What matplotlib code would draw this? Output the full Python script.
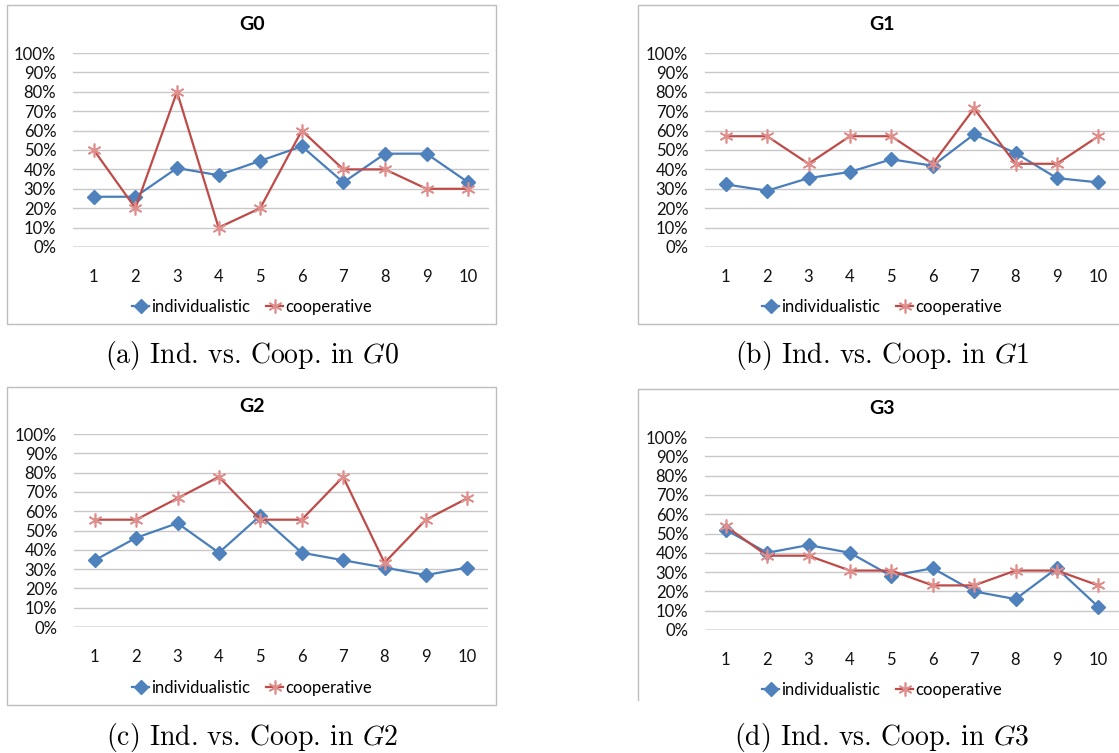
"""
Ind. vs. Coop. per round, four groups
"""

import matplotlib
matplotlib.use('Agg')
import matplotlib.pyplot as plt
from matplotlib.patches import Rectangle
from matplotlib.lines import Line2D
from matplotlib.ticker import FuncFormatter

rounds = [1, 2, 3, 4, 5, 6, 7, 8, 9, 10]
groups = ['G0', 'G1', 'G2', 'G3']
captions = ['(a) Ind. vs. Coop. in $G0$', '(b) Ind. vs. Coop. in $G1$',
            '(c) Ind. vs. Coop. in $G2$', '(d) Ind. vs. Coop. in $G3$']

ind_g0 = [0.259, 0.259, 0.407, 0.370, 0.444, 0.519, 0.333, 0.481, 0.481, 0.333]
coop_g0 = [0.50, 0.20, 0.80, 0.10, 0.20, 0.60, 0.40, 0.40, 0.30, 0.30]

ind_g1 = [0.323, 0.290, 0.355, 0.387, 0.452, 0.419, 0.581, 0.484, 0.355, 0.333]
coop_g1 = [0.571, 0.571, 0.429, 0.571, 0.571, 0.429, 0.714, 0.429, 0.429, 0.571]

ind_g2 = [0.346, 0.462, 0.538, 0.385, 0.577, 0.385, 0.346, 0.308, 0.269, 0.308]
coop_g2 = [0.556, 0.556, 0.667, 0.778, 0.556, 0.556, 0.778, 0.333, 0.556, 0.667]

ind_g3 = [0.52, 0.40, 0.44, 0.40, 0.28, 0.32, 0.20, 0.16, 0.32, 0.12]
coop_g3 = [0.538, 0.385, 0.385, 0.308, 0.308, 0.231, 0.231, 0.308, 0.308, 0.231]

ind_all = [ind_g0, ind_g1, ind_g2, ind_g3]
coop_all = [coop_g0, coop_g1, coop_g2, coop_g3]

W, H = 1119, 753
plt.rcParams['font.family'] = ['Lato', 'DejaVu Sans']
plt.rcParams['mathtext.fontset'] = 'cm'

fig = plt.figure(figsize=(W / 100, H / 100), dpi=100)

# pixel layout: box (x0, y0, x1, y1), plot area (x0, x1, y_top, y_bottom)
boxes = [(7, 5, 496, 324), (638, 5, 1125, 324), (7, 387, 496, 705), (638, 389, 1125, 700)]
plots = [(73, 489, 53, 247), (705, 1119, 53, 247), (74, 488, 434, 627), (705, 1119, 437, 630)]
title_y = [25, 25, 406, 409]
xtick_y = [277, 277, 657, 660]
legend_y = [307, 307, 688, 690]
caption_y = [356, 356, 737, 737]
center_x = [252, 882, 252, 882]

def fx(px):
    return px / W

def fy(py):
    return 1 - py / H

for i in range(4):
    bx0, by0, bx1, by1 = boxes[i]
    if i < 3:
        fig.add_artist(Rectangle((fx(bx0), fy(by1)), fx(bx1 - bx0), (by1 - by0) / H,
                                 transform=fig.transFigure, fill=False,
                                 edgecolor='#BDBDBD', linewidth=1.0))
    else:
        # last box is cut off at the bottom and right
        fig.add_artist(Line2D([fx(bx0), fx(bx0), fx(bx1)], [fy(by1), fy(by0), fy(by0)],
                              transform=fig.transFigure, color='#BDBDBD', linewidth=1.0))

    px0, px1, pt, pb = plots[i]
    ax = fig.add_axes([fx(px0), fy(pb), fx(px1 - px0), (pb - pt) / H])
    ax.set_xlim(0.5, 10.5)
    ax.set_ylim(0, 1)
    for s in ax.spines.values():
        s.set_visible(False)
    ax.set_yticks([k / 10 for k in range(11)])
    ax.yaxis.set_major_formatter(FuncFormatter(lambda v, p: f'{v * 100:.0f}%'))
    ax.grid(axis='y', color='#C8C8C8', linewidth=1.0)
    ax.axhline(0, color='#8C8C8C', linewidth=1.0)
    ax.set_xticks(rounds)
    ax.tick_params(axis='both', length=0, labelsize=12, colors='#111111')
    ax.tick_params(axis='x', pad=(xtick_y[i] - pb - 8) * 0.72)
    ax.tick_params(axis='y', pad=12)
    ax.set_axisbelow(True)

    l1, = ax.plot(rounds, ind_all[i], color='#4A7EBB', linewidth=1.6,
                  marker='D', markersize=7, markerfacecolor='#4F81BD',
                  markeredgecolor='#4F81BD', label='individualistic', clip_on=False)
    l2, = ax.plot(rounds, coop_all[i], color='#BE4B48', linewidth=1.6,
                  marker=(6, 2, 0), markersize=10, markeredgecolor='#E08E8C',
                  markeredgewidth=1.2, label='cooperative', clip_on=False)

    cx = center_x[i]
    fig.text(fx(cx), fy(title_y[i]), groups[i], fontsize=14, fontweight='bold',
             ha='center', va='center')
    fig.legend(handles=[l1, l2], loc='center', bbox_to_anchor=(fx(cx), fy(legend_y[i])),
               ncol=2, frameon=False, fontsize=12, handlelength=1.0,
               handletextpad=0.1, columnspacing=1.0, borderaxespad=0)

    fig.text(fx(cx), fy(caption_y[i]), captions[i], fontsize=20,
             family='cmr10', ha='center', va='center')

fig.savefig('out.png', dpi=100)
